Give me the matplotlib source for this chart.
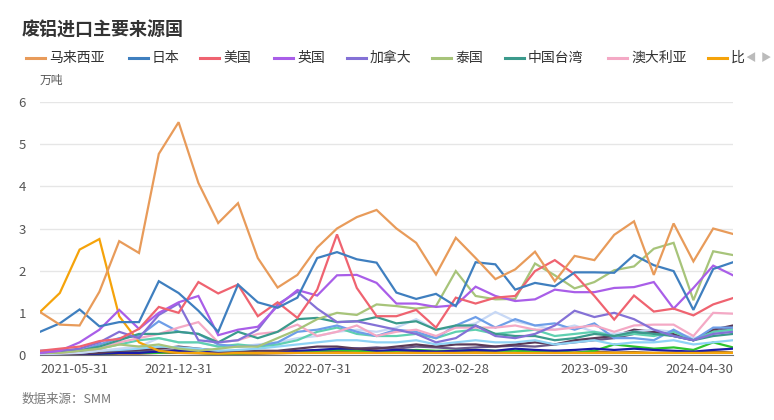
import matplotlib
matplotlib.use("Agg")
import matplotlib.pyplot as plt
from matplotlib.lines import Line2D

plt.rcParams["font.family"] = ["Noto Sans CJK SC", "DejaVu Sans"]

# monthly points, 2021-05 .. 2024-04 (36 months)
months = [f"{y}-{m:02d}" for y in (2021, 2022, 2023, 2024) for m in range(1, 13)][4:40]
tick_labels = ["2021-05-31", "2021-12-31", "2022-07-31", "2023-02-28", "2023-09-30", "2024-04-30"]
tick_idx = [0, 7, 14, 21, 28, 35]

malaysia = [1.02, 0.72, 0.70, 1.50, 2.70, 2.42, 4.77, 5.52, 4.08, 3.13, 3.60, 2.30,
            1.60, 1.90, 2.55, 3.00, 3.27, 3.44, 3.00, 2.66, 1.91, 2.78, 2.30, 1.80,
            2.03, 2.45, 1.75, 2.35, 2.25, 2.85, 3.17, 1.90, 3.12, 2.22, 3.00, 2.87]
japan = [0.55, 0.75, 1.08, 0.68, 0.78, 0.78, 1.75, 1.47, 1.05, 0.55, 1.67, 1.25,
         1.12, 1.36, 2.30, 2.44, 2.27, 2.19, 1.48, 1.33, 1.45, 1.16, 2.20, 2.15,
         1.55, 1.71, 1.63, 1.96, 1.96, 1.95, 2.37, 2.13, 1.99, 1.07, 2.04, 2.20]
usa = [0.10, 0.15, 0.20, 0.33, 0.38, 0.62, 1.14, 1.00, 1.73, 1.46, 1.67, 0.92,
       1.25, 0.88, 1.55, 2.86, 1.59, 0.92, 0.92, 1.07, 0.65, 1.36, 1.22, 1.36,
       1.40, 1.99, 2.25, 1.91, 1.40, 0.84, 1.41, 1.03, 1.10, 0.94, 1.20, 1.35]
uk = [0.05, 0.10, 0.30, 0.60, 1.07, 0.62, 1.00, 1.25, 1.40, 0.47, 0.60, 0.67,
      1.16, 1.54, 1.41, 1.89, 1.90, 1.71, 1.22, 1.22, 1.14, 1.18, 1.62, 1.40,
      1.28, 1.32, 1.55, 1.49, 1.49, 1.59, 1.61, 1.73, 1.10, 1.59, 2.12, 1.89]
canada = [0.05, 0.10, 0.15, 0.30, 0.55, 0.40, 0.95, 1.22, 0.35, 0.30, 0.35, 0.60,
          1.20, 1.50, 1.10, 0.78, 0.80, 0.70, 0.60, 0.50, 0.30, 0.40, 0.70, 0.45,
          0.40, 0.50, 0.70, 1.05, 0.90, 1.00, 0.85, 0.60, 0.45, 0.35, 0.50, 0.55]
thailand = [0.05, 0.05, 0.10, 0.15, 0.25, 0.20, 0.25, 0.15, 0.10, 0.15, 0.20, 0.20,
            0.40, 0.60, 0.85, 1.00, 0.95, 1.20, 1.16, 1.10, 1.16, 1.99, 1.40, 1.32,
            1.33, 2.17, 1.89, 1.58, 1.73, 2.01, 2.10, 2.52, 2.66, 1.30, 2.46, 2.37]
taiwan = [0.05, 0.08, 0.10, 0.20, 0.35, 0.50, 0.50, 0.55, 0.50, 0.30, 0.55, 0.40,
          0.55, 0.85, 0.88, 0.78, 0.80, 0.90, 0.75, 0.80, 0.60, 0.70, 0.70, 0.50,
          0.45, 0.45, 0.35, 0.40, 0.50, 0.45, 0.55, 0.50, 0.45, 0.35, 0.45, 0.50]
australia = [0.05, 0.05, 0.10, 0.15, 0.30, 0.40, 0.50, 0.65, 0.78, 0.30, 0.35, 0.50,
             0.55, 0.72, 0.45, 0.55, 0.70, 0.45, 0.55, 0.60, 0.45, 0.65, 0.65, 0.65,
             0.70, 0.60, 0.60, 0.65, 0.70, 0.55, 0.70, 0.72, 0.72, 0.45, 1.00, 0.98]
belgium = [1.02, 1.47, 2.50, 2.75, 0.92, 0.30, 0.10, 0.05, 0.05, 0.03, 0.05, 0.05,
           0.05, 0.05, 0.05, 0.05, 0.05, 0.05, 0.05, 0.05, 0.05, 0.05, 0.05, 0.05,
           0.05, 0.05, 0.05, 0.05, 0.05, 0.05, 0.05, 0.05, 0.05, 0.05, 0.05, 0.05]
korea = [0.10, 0.12, 0.10, 0.25, 0.40, 0.45, 0.80, 0.55, 0.50, 0.25, 0.20, 0.22,
         0.30, 0.55, 0.60, 0.70, 0.55, 0.45, 0.60, 0.55, 0.40, 0.70, 0.90, 0.65,
         0.85, 0.70, 0.75, 0.60, 0.75, 0.40, 0.40, 0.35, 0.60, 0.35, 0.65, 0.65]
germany = [0.05, 0.08, 0.10, 0.15, 0.25, 0.35, 0.40, 0.30, 0.30, 0.20, 0.25, 0.20,
           0.25, 0.35, 0.55, 0.65, 0.50, 0.45, 0.45, 0.50, 0.40, 0.55, 0.60, 0.50,
           0.55, 0.60, 0.45, 0.50, 0.55, 0.45, 0.50, 0.45, 0.55, 0.35, 0.55, 0.60]
newzealand = [0.02, 0.03, 0.05, 0.10, 0.15, 0.20, 0.40, 0.30, 0.30, 0.20, 0.20, 0.25,
              0.30, 0.40, 0.45, 0.55, 0.60, 0.55, 0.65, 0.85, 0.60, 0.65, 0.75, 1.02,
              0.80, 0.70, 0.60, 0.70, 0.55, 0.50, 0.55, 0.60, 0.55, 0.40, 0.50, 0.60]
philippines = [0.02, 0.05, 0.05, 0.10, 0.12, 0.15, 0.20, 0.18, 0.15, 0.10, 0.12, 0.15,
               0.20, 0.25, 0.30, 0.35, 0.35, 0.30, 0.30, 0.35, 0.25, 0.30, 0.35, 0.30,
               0.30, 0.35, 0.25, 0.30, 0.35, 0.25, 0.30, 0.30, 0.35, 0.25, 0.30, 0.35]
vietnam = [0.01, 0.02, 0.03, 0.05, 0.10, 0.12, 0.15, 0.20, 0.15, 0.10, 0.08, 0.10,
           0.10, 0.15, 0.20, 0.20, 0.15, 0.15, 0.20, 0.25, 0.20, 0.25, 0.25, 0.20,
           0.25, 0.30, 0.25, 0.35, 0.40, 0.45, 0.60, 0.55, 0.50, 0.35, 0.60, 0.70]
uae = [0.01, 0.02, 0.02, 0.03, 0.05, 0.05, 0.08, 0.10, 0.08, 0.05, 0.05, 0.05,
       0.08, 0.10, 0.12, 0.15, 0.15, 0.10, 0.12, 0.10, 0.08, 0.10, 0.12, 0.10,
       0.15, 0.12, 0.10, 0.12, 0.15, 0.12, 0.15, 0.12, 0.10, 0.08, 0.12, 0.15]
indonesia = [0.01, 0.01, 0.02, 0.03, 0.05, 0.05, 0.05, 0.08, 0.05, 0.03, 0.04, 0.05,
             0.05, 0.06, 0.10, 0.12, 0.10, 0.08, 0.10, 0.12, 0.10, 0.10, 0.12, 0.10,
             0.10, 0.08, 0.10, 0.05, 0.10, 0.25, 0.20, 0.15, 0.18, 0.12, 0.30, 0.18]
france = [0.01, 0.02, 0.02, 0.05, 0.08, 0.10, 0.10, 0.12, 0.10, 0.08, 0.06, 0.05,
          0.06, 0.08, 0.10, 0.12, 0.15, 0.18, 0.15, 0.20, 0.18, 0.15, 0.18, 0.20,
          0.22, 0.20, 0.25, 0.30, 0.35, 0.40, 0.50, 0.55, 0.45, 0.35, 0.55, 0.65]
spain = [0.01, 0.01, 0.02, 0.02, 0.03, 0.03, 0.05, 0.05, 0.04, 0.03, 0.03, 0.03,
         0.04, 0.05, 0.06, 0.08, 0.06, 0.05, 0.06, 0.07, 0.05, 0.06, 0.08, 0.06,
         0.05, 0.06, 0.05, 0.06, 0.08, 0.06, 0.07, 0.05, 0.06, 0.05, 0.08, 0.06]

series = [
    ("马来西亚", malaysia, "#e89b5a"),
    ("日本", japan, "#3f7fbf"),
    ("美国", usa, "#ef6370"),
    ("英国", uk, "#a95ee8"),
    ("加拿大", canada, "#8471d6"),
    ("泰国", thailand, "#a7c47a"),
    ("中国台湾", taiwan, "#3b9a8c"),
    ("澳大利亚", australia, "#f4a9c5"),
    ("比利时", belgium, "#f5a30a"),
    ("韩国", korea, "#6e9ee8"),
    ("德国", germany, "#5fd0b0"),
    ("新西兰", newzealand, "#c7d8f5"),
    ("菲律宾", philippines, "#8fd3f5"),
    ("越南", vietnam, "#5a3a58"),
    ("阿联酋", uae, "#1a1aa8"),
    ("印度尼西亚", indonesia, "#2fc42f"),
    ("法国", france, "#6a5a8a"),
    ("西班牙", spain, "#a07030"),
]

W, H = 774, 420
fig = plt.figure(figsize=(W / 100, H / 100), dpi=100)
ax = fig.add_axes([40 / W, 1 - 355 / H, (733 - 40) / W, (355 - 102) / H])

x = list(range(len(months)))
for name, vals, col in reversed(series):
    ax.plot(x, vals, color=col, lw=1.6, solid_joinstyle="miter")

ax.set_xlim(0, len(months) - 1)
ax.set_ylim(0, 6)
ax.set_yticks(range(7))
ax.grid(axis="y", color="#e6e6e6", lw=1)
ax.set_axisbelow(True)
for s in ("top", "right", "left"):
    ax.spines[s].set_visible(False)
ax.spines["bottom"].set_color("#6e7079")
ax.tick_params(axis="y", length=0, labelsize=9.5, labelcolor="#555555", pad=10)
ax.tick_params(axis="x", length=0, labelsize=9.5, labelcolor="#555555", pad=6)
ax.set_xticks(tick_idx)
ax.set_xticklabels(tick_labels)
labs = ax.get_xticklabels()
labs[0].set_ha("left")
labs[-1].set_ha("right")

fig.text(22 / W, 1 - 30 / H, "废铝进口主要来源国", fontsize=13, fontweight="bold",
         color="#333333", va="center")
fig.text(40 / W, 1 - 80 / H, "万吨", fontsize=8.5, color="#555555", va="center")
fig.text(22 / W, 1 - 399 / H, "数据来源：SMM", fontsize=9, color="#777777", va="center")

# legend row (scrolling legend, first nine entries)
leg_x = [26, 129, 200, 274, 347, 432, 505, 608, 708]
ly = 1 - 58 / H
for (name, vals, col), lx in zip(series[:9], leg_x):
    fig.add_artist(Line2D([lx / W, (lx + 19) / W], [ly, ly], color=col, lw=2.2))
    fig.text((lx + 23) / W, ly, name if lx < 700 else name[0], fontsize=10,
             color="#333333", va="center")
fig.text(751 / W, ly, "◀", fontsize=7.5, color="#bbbbbb", va="center", ha="center")
fig.text(766 / W, ly, "▶", fontsize=7.5, color="#bbbbbb", va="center", ha="center")

fig.savefig("out.png", dpi=100)
